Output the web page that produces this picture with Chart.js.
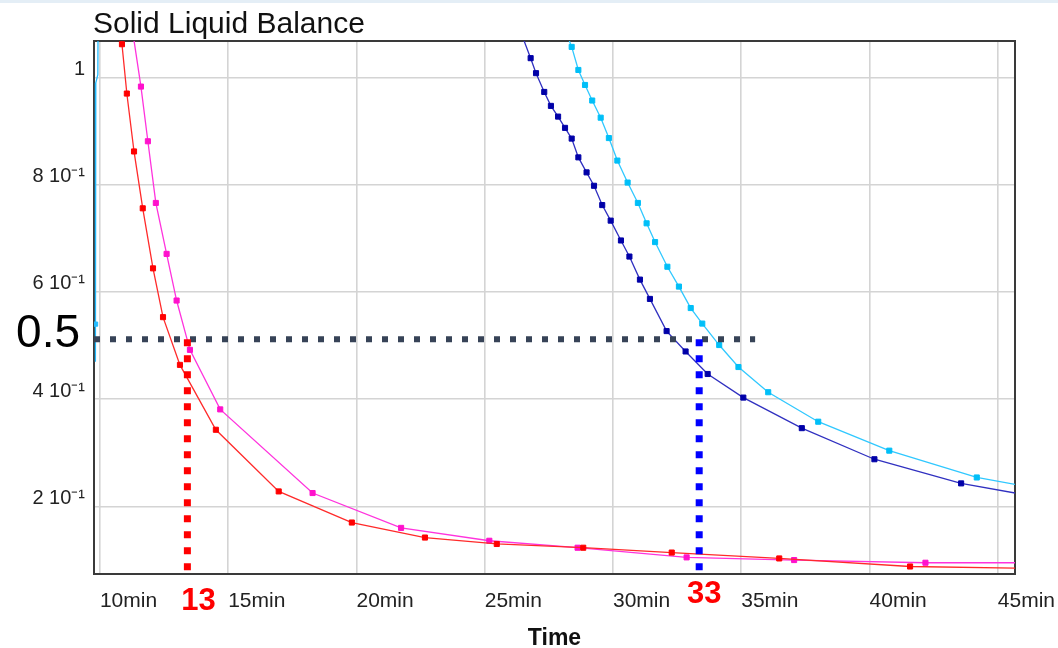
<!DOCTYPE html>
<html>
<head>
<meta charset="utf-8">
<script src="https://cdn.jsdelivr.net/npm/chart.js@4/dist/chart.umd.min.js"></script>
<style>
  html, body { margin: 0; padding: 0; background: #fff; }
  #wrap { width: 1058px; height: 648px; position: relative; }
</style>
</head>
<body>
<div id="wrap"><canvas id="slbChart"></canvas></div>
<script>
// values (time in min, fraction)
const xTicks = [10, 15, 20, 25, 30, 35, 40, 45];
const yTicks = [0.2, 0.4, 0.6, 0.8, 1.0];

const redTime = [10.78, 10.86, 11.05, 11.33, 11.67, 12.07, 12.46, 13.12, 14.52, 16.97, 19.82, 22.67, 25.47, 28.84, 32.29, 36.48, 41.58, 45.8];
const redValue = [1.10, 1.062, 0.970, 0.862, 0.756, 0.644, 0.553, 0.464, 0.343, 0.228, 0.170, 0.142, 0.130, 0.123, 0.114, 0.103, 0.088, 0.085];

const pinkTime = [11.21, 11.60, 11.87, 12.18, 12.60, 12.99, 13.51, 14.69, 18.29, 21.74, 25.18, 28.62, 32.87, 37.06, 42.18, 45.8];
const pinkValue = [1.107, 0.983, 0.881, 0.766, 0.671, 0.584, 0.492, 0.381, 0.225, 0.160, 0.136, 0.123, 0.105, 0.100, 0.095, 0.095];

const navyTime = [26.37, 26.79, 27.00, 27.32, 27.58, 27.86, 28.13, 28.39, 28.65, 28.97, 29.26, 29.58, 29.91, 30.31, 30.64, 31.05, 31.44, 32.09, 32.83, 33.69, 35.08, 37.36, 40.19, 43.57, 45.8];
const navyValue = [1.089, 1.036, 1.008, 0.973, 0.947, 0.927, 0.906, 0.886, 0.851, 0.823, 0.798, 0.762, 0.733, 0.696, 0.666, 0.623, 0.587, 0.527, 0.489, 0.447, 0.403, 0.346, 0.288, 0.243, 0.224];

const cyanTime = [28.13, 28.39, 28.65, 28.91, 29.19, 29.52, 29.84, 30.17, 30.57, 30.97, 31.31, 31.64, 32.12, 32.57, 33.03, 33.48, 34.14, 34.89, 36.05, 38.00, 40.77, 44.18, 45.8];
const cyanValue = [1.089, 1.057, 1.014, 0.986, 0.957, 0.925, 0.887, 0.845, 0.804, 0.766, 0.728, 0.693, 0.647, 0.610, 0.570, 0.541, 0.501, 0.460, 0.413, 0.358, 0.304, 0.254, 0.240];

const edgeTime = [9.93, 9.92, 9.84, 9.83, 9.82];
const edgeValue = [1.12, 1.005, 0.99, 0.54, 0.47];

// guide lines drawn on top
const guideLevel = 0.512;
const guideEnd = 35.54;
const crossTimes = [13.41, 33.36];
const crossLabels = ['13', '33'];
const crossColors = ['#ff0000', '#0000ff'];

const pts = (xs, ys) => xs.map((t, i) => ({ x: t, y: ys[i] }));

function series(label, xs, ys, line, mark, radius) {
    return {
        label,
        data: pts(xs, ys),
        borderColor: line,
        borderWidth: 1.3,
        backgroundColor: mark,
        pointStyle: 'rect',
        pointRadius: radius === undefined ? 3.6 : radius,
        pointBorderWidth: 1,
        pointBorderColor: mark,
        pointBackgroundColor: mark,
        tension: 0,
        fill: false
    };
}

const overlay = {
    id: 'overlay',
    beforeDraw(chart) {
        const c = chart.ctx;
        c.save();
        c.fillStyle = '#e4eef6';
        c.fillRect(0, 0, chart.width, 3);
        c.fillStyle = '#111';
        c.font = '30px "Liberation Sans", Arial, sans-serif';
        c.textAlign = 'left';
        c.textBaseline = 'alphabetic';
        c.fillText('Solid Liquid Balance', chart.chartArea.left - 1, 33);
        c.restore();
    },
    beforeDatasetsDraw(chart) {
        const { ctx: c, chartArea: a } = chart;
        c.save();
        c.strokeStyle = '#3a3a3a';
        c.lineWidth = 2;
        c.strokeRect(a.left, a.top, a.right - a.left, a.bottom - a.top);
        c.restore();
    },
    afterDatasetsDraw(chart) {
        const { ctx: c, chartArea: a, scales: { x, y } } = chart;
        const gy = y.getPixelForValue(guideLevel);
        c.save();
        c.lineCap = 'butt';
        c.setLineDash([6, 10]);
        c.lineWidth = 6;
        c.strokeStyle = '#374357';
        c.beginPath();
        c.moveTo(a.left, gy);
        c.lineTo(x.getPixelForValue(guideEnd), gy);
        c.stroke();

        const labelDx = [11, 5];
        const labelDy = [36, 29];
        crossTimes.forEach((t, i) => {
            const gx = x.getPixelForValue(t);
            c.setLineDash([7, 9]);
            c.lineWidth = 7;
            c.strokeStyle = crossColors[i];
            c.beginPath();
            c.moveTo(gx, gy);
            c.lineTo(gx, a.bottom);
            c.stroke();

            c.setLineDash([]);
            c.fillStyle = '#ff0000';
            c.font = 'bold 31px "Liberation Sans", Arial, sans-serif';
            c.textAlign = 'center';
            c.textBaseline = 'alphabetic';
            c.fillText(crossLabels[i], gx + labelDx[i], a.bottom + labelDy[i]);
        });

        c.setLineDash([]);
        c.fillStyle = '#000';
        c.font = '46px "Liberation Sans", Arial, sans-serif';
        c.textAlign = 'right';
        c.textBaseline = 'alphabetic';
        c.fillText('0.5', a.left - 14, gy + 8);
        c.restore();
    }
};

new Chart(document.getElementById('slbChart'), {
    type: 'line',
    data: {
        datasets: [
            series('edge', edgeTime, edgeValue, '#22bbff', '#22bbff', [0, 0, 0, 3, 0]),
            series('red', redTime, redValue, '#ff2a2a', '#ff0000'),
            series('pink', pinkTime, pinkValue, '#ff33dd', '#ff11cc'),
            series('navy', navyTime, navyValue, '#3030c0', '#0000a8'),
            series('cyan', cyanTime, cyanValue, '#30c8ff', '#00bff8')
        ]
    },
    options: {
        responsive: true,
        maintainAspectRatio: false,
        animation: false,
        layout: { padding: { top: 41, left: 0, right: 43, bottom: 0 } },
        plugins: {
            legend: { display: false },
            tooltip: { enabled: false },
            title: { display: false }
        },
        scales: {
            x: {
                type: 'linear',
                min: 9.77,
                max: 45.67,
                afterBuildTicks: s => { s.ticks = xTicks.map(v => ({ value: v })); },
                afterFit: s => { s.height = 74; s.paddingLeft = 0; s.paddingRight = 0; },
                grid: { color: '#d4d4d4', lineWidth: 1.6, drawTicks: false },
                border: { display: false },
                ticks: {
                    align: 'start',
                    autoSkip: false,
                    maxRotation: 0,
                    padding: 15,
                    color: '#222',
                    font: { family: '"Liberation Sans", Arial, sans-serif', size: 21 },
                    callback: v => v + 'min'
                },
                title: {
                    display: true,
                    text: 'Time',
                    color: '#111',
                    padding: { top: 0, bottom: 0 },
                    font: { family: '"Liberation Sans", Arial, sans-serif', size: 23, weight: 'bold', lineHeight: 0.8 }
                }
            },
            y: {
                type: 'linear',
                min: 0.074,
                max: 1.068,
                afterBuildTicks: s => { s.ticks = yTicks.map(v => ({ value: v })); },
                afterFit: s => { s.width = 94; s.paddingTop = 0; s.paddingBottom = 0; },
                grid: { color: '#d4d4d4', lineWidth: 1.6, drawTicks: false },
                border: { display: false },
                ticks: {
                    padding: 9,
                    labelOffset: -8,
                    color: '#222',
                    font: { family: '"Liberation Sans", Arial, sans-serif', size: 20 },
                    callback: v => Math.abs(v - 1) < 1e-6 ? '1' : Math.round(v * 10) + ' 10\u207B\u00B9'
                }
            }
        }
    },
    plugins: [overlay]
});
</script>
</body>
</html>
